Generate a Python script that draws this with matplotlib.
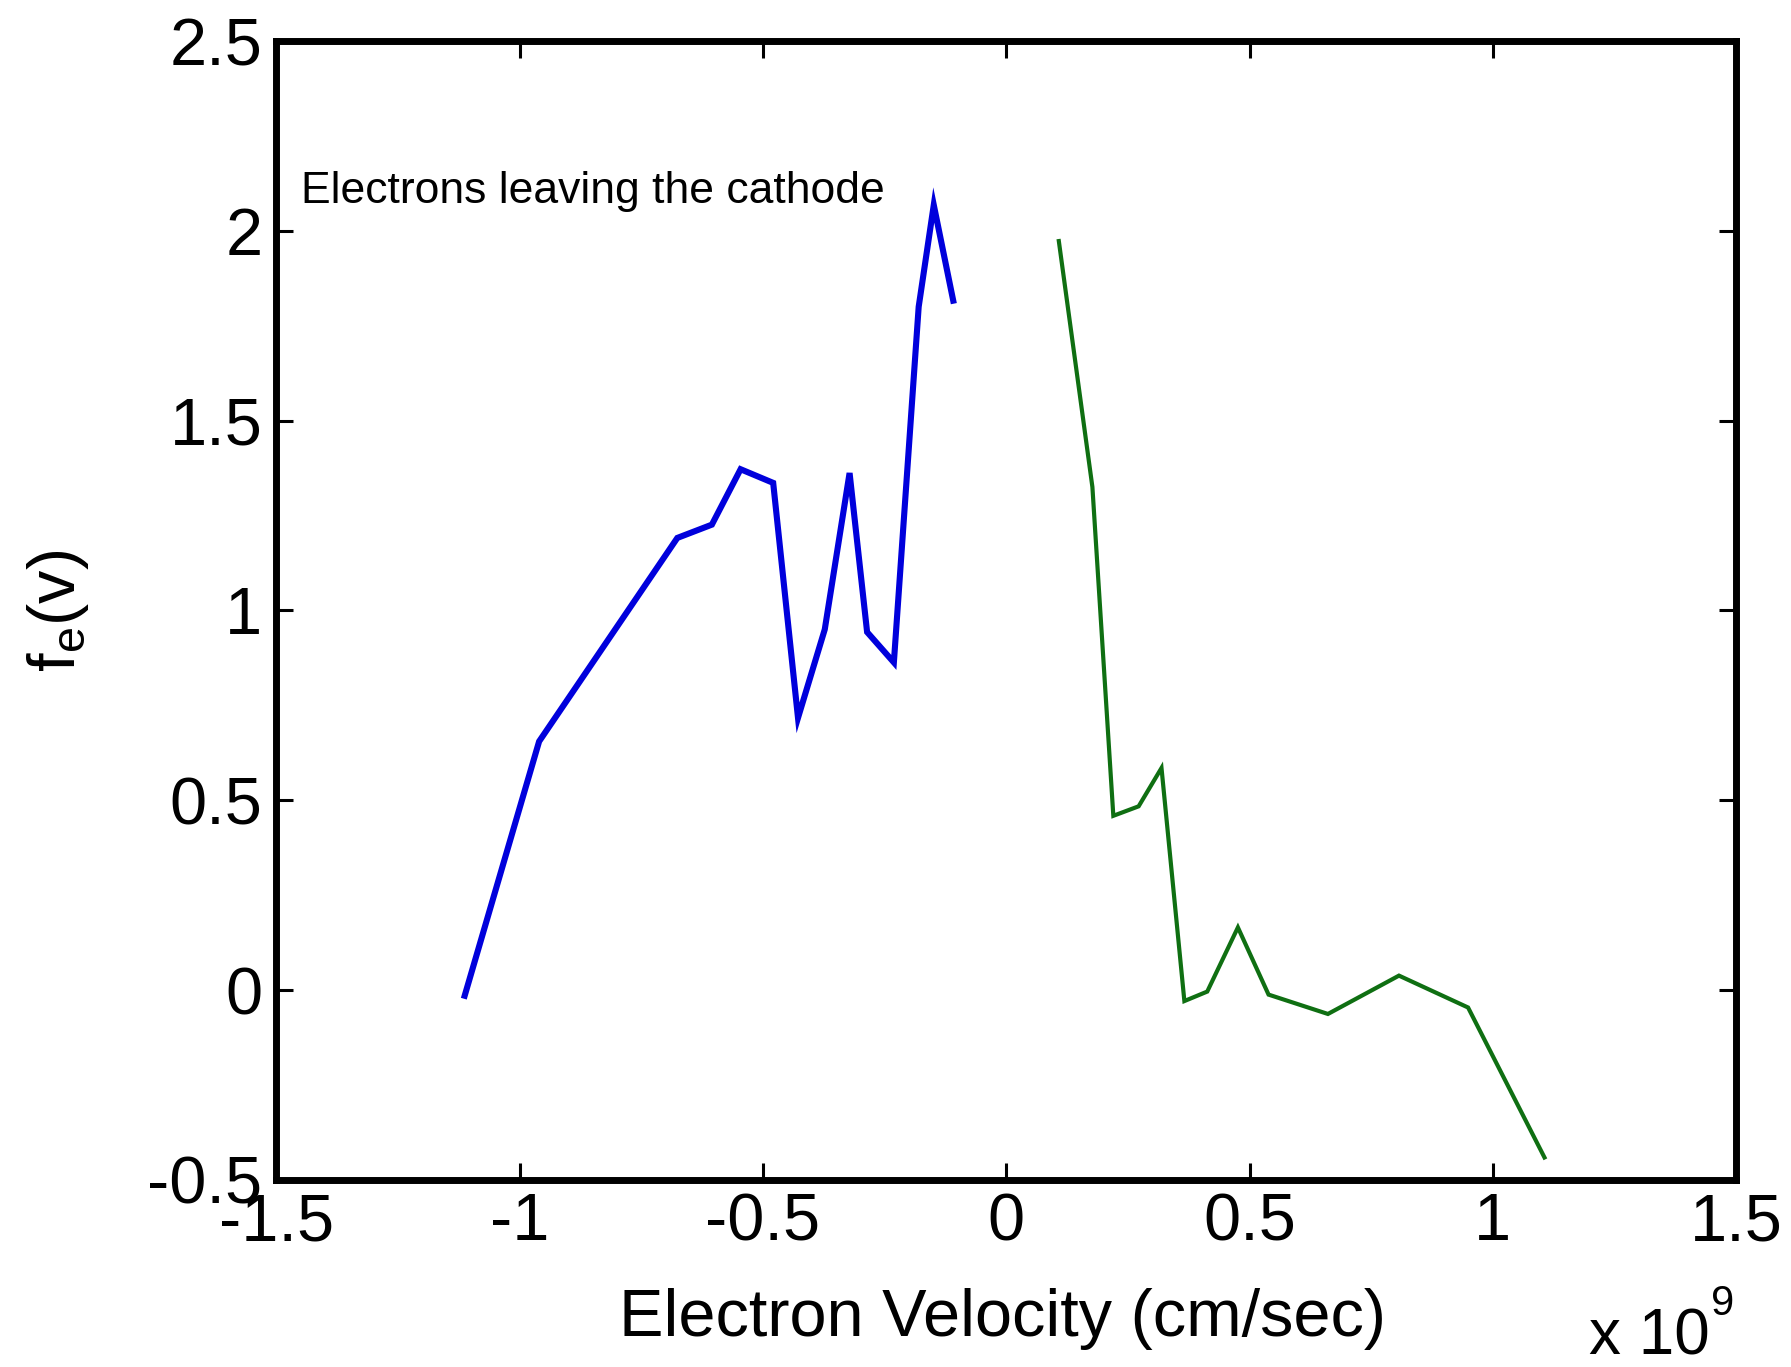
import numpy as np
import matplotlib
matplotlib.use('Agg')
import matplotlib.pyplot as plt

# electron velocity in units of 1e9 cm/sec
v_neg = [-1.113, -0.960, -0.676, -0.605, -0.546, -0.479, -0.428, -0.373,
         -0.322, -0.286, -0.231, -0.180, -0.149, -0.109]
f_neg = [-0.015, 0.655, 1.191, 1.226, 1.372, 1.336, 0.717, 0.950,
         1.362, 0.943, 0.863, 1.800, 2.068, 1.816]

v_pos = [0.108, 0.177, 0.220, 0.272, 0.319, 0.366, 0.413, 0.476,
         0.539, 0.661, 0.807, 0.949, 1.106]
f_pos = [1.973, 1.325, 0.459, 0.484, 0.585, -0.029, -0.004, 0.165,
         -0.012, -0.063, 0.038, -0.046, -0.441]

xticks = [-1.5, -1, -0.5, 0, 0.5, 1, 1.5]
xlabels = ['-1.5', '-1', '-0.5', '0', '0.5', '1', '1.5']
yticks = [-0.5, 0, 0.5, 1, 1.5, 2, 2.5]
ylabels = ['-0.5', '0', '0.5', '1', '1.5', '2', '2.5']

plt.rcParams['font.family'] = ['Liberation Sans', 'DejaVu Sans']
plt.rcParams['mathtext.fontset'] = 'custom'
plt.rcParams['mathtext.rm'] = 'Liberation Sans'
plt.rcParams['axes.unicode_minus'] = False

fig = plt.figure(figsize=(17.91, 13.67), dpi=100)
ax = fig.add_axes([0.1543, 0.1369, 0.8151, 0.8331])

ax.plot(v_neg, f_neg, color='#0000dc', linewidth=4.4, solid_joinstyle='miter')
ax.plot(v_pos, f_pos, color='#0f6f12', linewidth=3.0, solid_joinstyle='miter')

ax.set_xlim(-1.5, 1.5)
ax.set_ylim(-0.5, 2.5)
ax.set_xticks(xticks)
ax.set_xticklabels(xlabels)
ax.set_yticks(yticks)
ax.set_yticklabels(ylabels)

for s in ax.spines.values():
    s.set_linewidth(5)
ax.tick_params(direction='in', length=12, width=2.2, top=True, right=True,
               labelsize=48)
ax.tick_params(axis='x', pad=9)
ax.tick_params(axis='y', pad=10)

ax.set_xlabel('Electron Velocity (cm/sec)', fontsize=48)
ax.xaxis.label.set_va('baseline')
ax.xaxis.set_label_coords(0.4977, -0.137)

ax.set_ylabel('$\\mathregular{f_e(v)}$', fontsize=48)
ax.yaxis.label.set_va('center')
ax.yaxis.set_label_coords(-0.1496, 0.5)

ax.text(-1.45, 2.073, 'Electrons leaving the cathode', fontsize=32,
        ha='left', va='baseline')

# exponent note under the right end of the x axis
fig.text(0.9548, 0.009, 'x 10', fontsize=46, ha='right', va='baseline')
fig.text(0.9555, 0.061, '9', fontsize=30, ha='left', va='top')

fig.savefig('out.png', dpi=100, facecolor='white')
